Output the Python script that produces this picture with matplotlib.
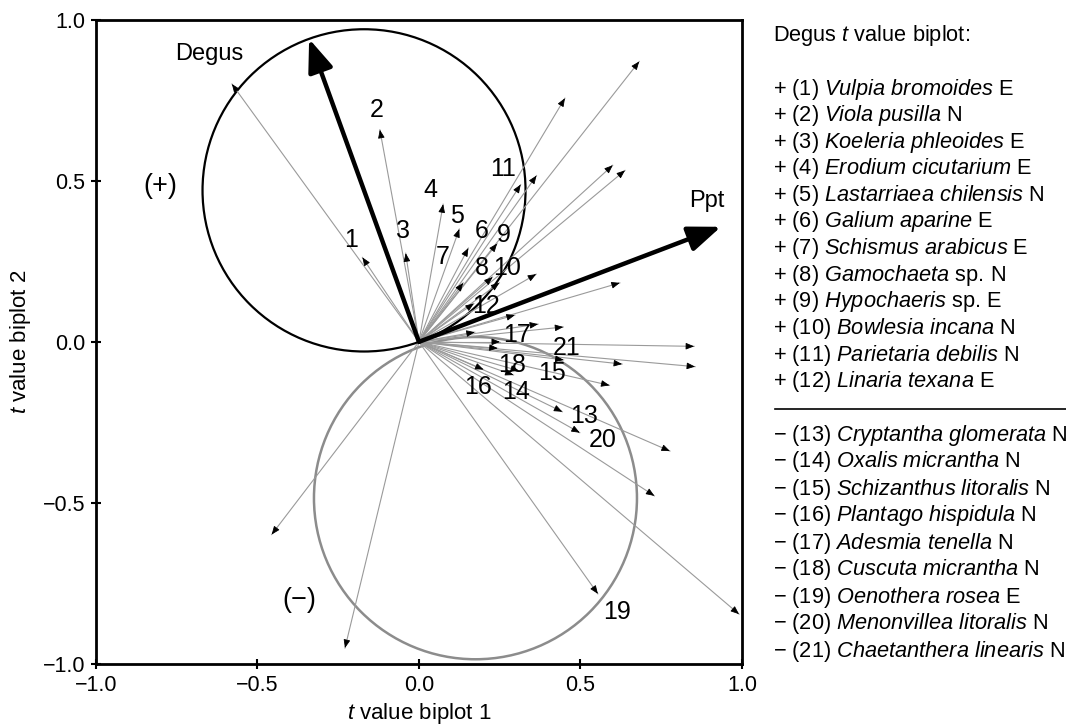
import numpy as np
import matplotlib
matplotlib.use('Agg')
import matplotlib.pyplot as plt
from matplotlib.patches import Circle

plt.rcParams['font.family'] = ['Liberation Sans', 'DejaVu Sans']
plt.rcParams['mathtext.fontset'] = 'custom'
plt.rcParams['mathtext.rm'] = 'Liberation Sans'
plt.rcParams['mathtext.it'] = 'Liberation Sans:italic'

# species arrow tips (t value biplot 1, t value biplot 2)
arrow_x = [-0.579, -0.175, -0.121, -0.041, 0.075, 0.125, 0.153, 0.242, 0.137, 0.228,
           0.249, 0.315, 0.170, 0.682, 0.452, 0.600, 0.638, 0.364, 0.363, 0.622,
           0.297, 0.173, 0.369, 0.447, 0.852, 0.251, 0.244, 0.448, 0.629, 0.855,
           0.200, 0.293, 0.310, 0.590, 0.444, 0.498, 0.777, 0.729, 0.554, 0.991,
           -0.456, -0.229]
arrow_y = [0.800, 0.262, 0.658, 0.275, 0.427, 0.350, 0.291, 0.305, 0.183, 0.201,
           0.183, 0.488, 0.119, 0.870, 0.756, 0.548, 0.532, 0.516, 0.210, 0.183,
           0.083, 0.030, 0.055, 0.046, -0.014, 0.000, -0.020, -0.056, -0.069, -0.077,
           -0.086, -0.103, -0.090, -0.135, -0.217, -0.282, -0.339, -0.478, -0.782, -0.845,
           -0.598, -0.950]

# numbered species labels
label_num = list(range(1, 22))
label_x = [-0.211, -0.132, -0.049, 0.036, 0.119, 0.194, 0.075, 0.194, 0.263, 0.273,
           0.259, 0.207, 0.510, 0.300, 0.411, 0.182, 0.305, 0.289, 0.614, 0.570, 0.458]
label_y = [0.316, 0.718, 0.345, 0.470, 0.392, 0.343, 0.264, 0.230, 0.332, 0.230,
           0.537, 0.111, -0.229, -0.156, -0.098, -0.140, 0.020, -0.072, -0.839, -0.304, -0.018]

# explanatory variables
degus = (-0.34, 0.94)
ppt = (0.935, 0.357)

# van Dobben circles
circle_plus = (-0.17, 0.47)
circle_minus = (0.175, -0.485)
circle_r = 0.5

species = ['Vulpia bromoides', 'Viola pusilla', 'Koeleria phleoides', 'Erodium cicutarium',
           'Lastarriaea chilensis', 'Galium aparine', 'Schismus arabicus', 'Gamochaeta sp.',
           'Hypochaeris sp.', 'Bowlesia incana', 'Parietaria debilis', 'Linaria texana',
           'Cryptantha glomerata', 'Oxalis micrantha', 'Schizanthus litoralis',
           'Plantago hispidula', 'Adesmia tenella', 'Cuscuta micrantha', 'Oenothera rosea',
           'Menonvillea litoralis', 'Chaetanthera linearis']
origin = ['E', 'N', 'E', 'E', 'N', 'E', 'E', 'N', 'E', 'N', 'N', 'E',
          'N', 'N', 'N', 'N', 'N', 'N', 'E', 'N', 'N']
signs = ['+'] * 12 + ['\u2212'] * 9

fig = plt.figure(figsize=(10.66, 7.25), dpi=100)
ax = fig.add_axes([0.090, 0.084, 0.606, 0.889])

# circles
ax.add_patch(Circle(circle_plus, circle_r, fill=False, color='black', lw=1.6))
ax.add_patch(Circle(circle_minus, circle_r, fill=False, color='#8c8c8c', lw=1.8))

# species arrows: thin grey shaft, small black head
for x, y in zip(arrow_x, arrow_y):
    ax.plot([0, x], [0, y], color='#9a9a9a', lw=0.8, zorder=2)
    d = np.hypot(x, y)
    ux, uy = x / d, y / d
    ax.annotate('', xy=(x, y), xytext=(x - 0.02 * ux, y - 0.02 * uy),
                arrowprops=dict(arrowstyle='-|>,head_length=0.5,head_width=0.2',
                                color='black', lw=0.6, shrinkA=0, shrinkB=0),
                zorder=3)

# environmental arrows
for v in (degus, ppt):
    ax.annotate('', xy=v, xytext=(0, 0),
                arrowprops=dict(arrowstyle='-|>,head_length=0.9,head_width=0.35',
                                color='black', lw=3.2, shrinkA=0, shrinkB=0,
                                mutation_scale=22),
                zorder=4)

for n, x, y in zip(label_num, label_x, label_y):
    ax.text(x, y, str(n), fontsize=18, ha='center', va='center', zorder=5)

ax.text(-0.648, 0.894, 'Degus', fontsize=17, ha='center', va='center')
ax.text(0.891, 0.438, 'Ppt', fontsize=17, ha='center', va='center')
ax.text(-0.80, 0.484, '(+)', fontsize=19.5, ha='center', va='center')
ax.text(-0.371, -0.80, '(\u2212)', fontsize=19.5, ha='center', va='center')

ax.set_xlim(-1, 1)
ax.set_ylim(-1, 1)
ticks = [-1.0, -0.5, 0.0, 0.5, 1.0]
ax.set_xticks(ticks)
ax.set_yticks(ticks)
ax.set_xticklabels(['\u22121.0', '\u22120.5', '0.0', '0.5', '1.0'])
ax.set_yticklabels(['\u22121.0', '\u22120.5', '0.0', '0.5', '1.0'])
ax.tick_params(direction='inout', length=7, width=1.5, labelsize=15.5, pad=4)
for s in ax.spines.values():
    s.set_linewidth(2)
ax.set_xlabel(r'$t$ value biplot 1', fontsize=16)
ax.set_ylabel(r'$t$ value biplot 2', fontsize=16)
ax.xaxis.set_label_coords(0.5, -0.057)
ax.yaxis.set_label_coords(-0.0975, 0.5)

# species list on the right
lx = 773 / 1066
fig.text(lx, 1 - 35 / 725, r'Degus $t$ value biplot:', fontsize=15.7, va='center')
for i, (sg, name, org) in enumerate(zip(signs, species, origin)):
    if i < 12:
        py = 89 + i * 26.6
    else:
        py = 435 + (i - 12) * 27.0
    if name.endswith(' sp.'):
        body = r'$\mathit{' + name[:-4] + '}$ sp.'
    else:
        body = r'$\mathit{' + name.replace(' ', r'\ ') + '}$'
    fig.text(lx, 1 - py / 725, '%s (%d) %s %s' % (sg, i + 1, body, org),
             fontsize=15.7, va='center')
fig.add_artist(plt.Line2D([775 / 1066, 1.0], [1 - 409 / 725] * 2,
                          color='black', lw=1.2))

fig.savefig('out.png', dpi=100)
